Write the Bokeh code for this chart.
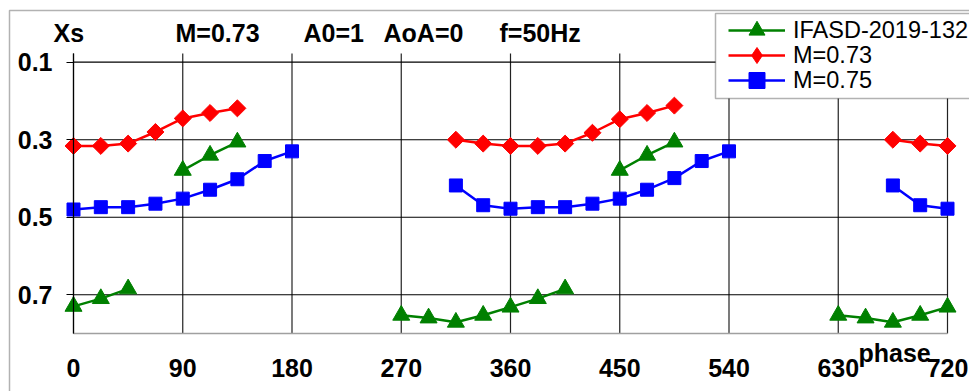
import math
from bokeh.plotting import figure
from bokeh.models import (Range1d, FixedTicker, Label, Legend, LegendItem,
                          BoxAnnotation, LinearAxis)
from bokeh.embed import file_html
from bokeh.resources import INLINE

nan = float("nan")

# ---- data ----
phase_ticks = [0, 90, 180, 270, 360, 450, 540, 630, 720]
xs_ticks = [0.1, 0.3, 0.5, 0.7]
phase_min, phase_max = 0, 720
xs_top, xs_bottom = 0.0775, 0.8

ifasd_phase = [0, 22.5, 45, nan, 90, 112.5, 135, nan,
               270, 292.5, 315, 337.5, 360, 382.5, 405, nan,
               450, 472.5, 495, nan,
               630, 652.5, 675, 697.5, 720]
ifasd_xs = [0.730, 0.710, 0.685, nan, 0.379, 0.340, 0.306, nan,
            0.753, 0.760, 0.771, 0.753, 0.732, 0.710, 0.685, nan,
            0.379, 0.340, 0.306, nan,
            0.753, 0.760, 0.771, 0.753, 0.732]

m073_phase = [0, 22.5, 45, 67.5, 90, 112.5, 135, nan,
              315, 337.5, 360, 382.5, 405, 427.5, 450, 472.5, 495, nan,
              675, 697.5, 720]
m073_xs = [0.316, 0.316, 0.310, 0.280, 0.245, 0.231, 0.219, nan,
           0.300, 0.310, 0.316, 0.316, 0.310, 0.282, 0.247, 0.231, 0.212, nan,
           0.300, 0.310, 0.316]

m075_phase = [0, 22.5, 45, 67.5, 90, 112.5, 135, 157.5, 180, nan,
              315, 337.5, 360, 382.5, 405, 427.5, 450, 472.5, 495, 517.5, 540, nan,
              675, 697.5, 720]
m075_xs = [0.480, 0.474, 0.474, 0.465, 0.452, 0.429, 0.402, 0.355, 0.330, nan,
           0.418, 0.469, 0.478, 0.474, 0.474, 0.465, 0.452, 0.429, 0.399, 0.355, 0.330, nan,
           0.418, 0.469, 0.478]

series_names = ["IFASD-2019-132", "M=0.73", "M=0.75"]
title_parts = ["Xs", "M=0.73", "A0=1", "AoA=0", "f=50Hz"]
x_title = "phase"

FONT = "Liberation Sans"
GREEN, RED, BLUE = "#008000", "#ff0000", "#0000ff"

W, H = 969, 391
# plot area in pixels: x 73..947, y 53..333 ; frame covers the whole canvas
kx = (947 - 73) / (phase_max - phase_min)
ky = (333 - 53) / (xs_bottom - xs_top)
x_lo = phase_min - 73 / kx
x_hi = phase_max + (W - 947) / kx
y_hi_px = xs_top - 53 / ky
y_lo_px = xs_bottom + (H - 333) / ky

p = figure(width=W, height=H, output_backend="svg", toolbar_location=None,
           x_range=Range1d(x_lo, x_hi), y_range=Range1d(y_lo_px, y_hi_px),
           x_axis_location=None, y_axis_location=None, min_border=0)
p.background_fill_color = "white"
p.border_fill_color = "white"
p.outline_line_color = None
p.grid.visible = False

# gridlines limited to the plot area
p.segment(x0=phase_ticks, y0=[xs_top] * len(phase_ticks),
          x1=phase_ticks, y1=[xs_bottom] * len(phase_ticks),
          line_color="#222222", line_width=1.2)
p.segment(x0=[phase_min] * len(xs_ticks), y0=xs_ticks,
          x1=[phase_max] * len(xs_ticks), y1=xs_ticks,
          line_color="black", line_width=1.2)

# axes
xaxis = LinearAxis(fixed_location=xs_bottom, bounds=(phase_min, phase_max),
                   ticker=FixedTicker(ticks=phase_ticks))
yaxis = LinearAxis(fixed_location=phase_min, bounds=(xs_top, xs_bottom),
                   ticker=FixedTicker(ticks=xs_ticks))
for ax in (xaxis, yaxis):
    ax.major_label_text_font = FONT
    ax.major_label_text_font_size = "25px"
    ax.major_label_text_font_style = "bold"
    ax.major_label_text_color = "black"
    ax.minor_tick_line_color = None
    ax.major_tick_in = 0
xaxis.axis_line_color = "#a0a0a0"
xaxis.axis_line_width = 1.5
xaxis.major_tick_out = 0
xaxis.major_label_standoff = 25
yaxis.axis_line_color = "black"
yaxis.axis_line_width = 1.2
yaxis.major_tick_out = 7
yaxis.major_tick_line_color = "black"
yaxis.major_tick_line_width = 1.2
yaxis.major_label_standoff = 14
p.add_layout(xaxis, "below")
p.add_layout(yaxis, "left")

# outer frame (screen units, from bottom-left of canvas)
p.add_layout(BoxAnnotation(left=9, right=W + 50, top=H - 10, bottom=-50,
                           left_units="screen", right_units="screen",
                           top_units="screen", bottom_units="screen",
                           fill_alpha=0, line_color="black", line_width=1.5))

# series
g_line = p.line(ifasd_phase, ifasd_xs, line_color=GREEN, line_width=2.5)
g_pts = p.scatter(ifasd_phase, ifasd_xs, marker="triangle", size=17,
                  fill_color=GREEN, line_color=GREEN)
r_line = p.line(m073_phase, m073_xs, line_color=RED, line_width=2.5)
r_pts = p.scatter(m073_phase, m073_xs, marker="square", angle=math.pi / 4, size=12,
                  fill_color=RED, line_color=RED)
b_line = p.line(m075_phase, m075_xs, line_color=BLUE, line_width=2.5)
b_pts = p.scatter(m075_phase, m075_xs, marker="square", size=13,
                  fill_color=BLUE, line_color=BLUE)
# legend-only diamond glyph for the red series (no visible points)
r_key = p.scatter([nan], [nan], marker="diamond", size=17,
                  fill_color=RED, line_color=RED)

# legend box
p.add_layout(BoxAnnotation(left=715, right=W + 50, top=H - 13, bottom=H - 98,
                           left_units="screen", right_units="screen",
                           top_units="screen", bottom_units="screen",
                           fill_color="white", fill_alpha=1,
                           line_color="black", line_width=1.5))

# one legend per row so that rows sit 25 px apart with large keys
row_centers = [30, 55, 80]
row_renderers = [[g_line, g_pts], [r_line, r_key], [b_line, b_pts]]
for name, rends, yc in zip(series_names, row_renderers, row_centers):
    lg = Legend(items=[LegendItem(label=name, renderers=rends)],
                location=(728, H - (yc + 20)), border_line_color=None,
                background_fill_alpha=0,
                label_text_font=FONT, label_text_font_size="23.5px",
                label_text_color="black",
                glyph_width=57, glyph_height=40, label_height=40, spacing=0,
                padding=0, margin=0, label_standoff=8)
    p.add_layout(lg)

# title texts
title_x = [53, 175, 303, 383, 499]
for t, xx in zip(title_parts, title_x):
    p.add_layout(Label(x=xx, y=H - 32, x_units="screen", y_units="screen", text=t,
                       text_baseline="middle", text_font=FONT, text_font_size="25px",
                       text_font_style="bold", text_color="black"))
p.add_layout(Label(x=858, y=H - 352, x_units="screen", y_units="screen", text=x_title,
                   text_baseline="middle", text_font=FONT, text_font_size="25px",
                   text_font_style="bold", text_color="black"))

open("out.html", "w").write(file_html(p, INLINE))
